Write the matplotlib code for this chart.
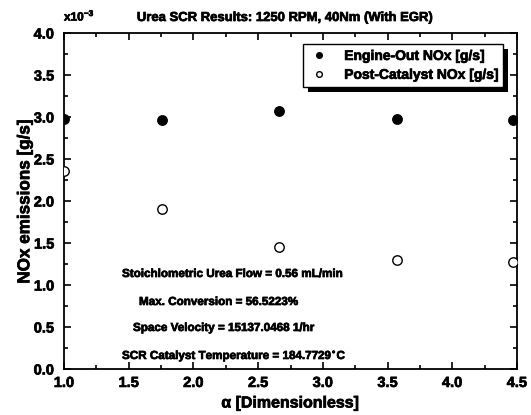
import matplotlib
matplotlib.use("Agg")
import matplotlib.pyplot as plt
import matplotlib.patheffects as pe
from matplotlib.ticker import MultipleLocator, FormatStrFormatter
from matplotlib.patches import Rectangle
from matplotlib.transforms import IdentityTransform

plt.rcParams['font.family'] = ['Liberation Sans', 'DejaVu Sans']

alpha_vals = [1.0, 1.76, 2.66, 3.57, 4.47]
engine_out = [2.98, 2.96, 3.07, 2.98, 2.96]   # x10^-3 g/s
post_cat = [2.355, 1.90, 1.45, 1.30, 1.27]     # x10^-3 g/s

title = "Urea SCR Results: 1250 RPM, 40Nm (With EGR)"
notes = ["Stoichlometric Urea Flow = 0.56 mL/min",
         "Max. Conversion = 56.5223%",
         "Space Velocity = 15137.0468 1/hr",
         "SCR Catalyst Temperature = 184.7729$^{\\circ}$C"]

heavy = [pe.withStroke(linewidth=0.5, foreground='black')]

fig = plt.figure(figsize=(5.31, 4.15), dpi=100)
ax = fig.add_axes([64/531, 1-369/415, 453/531, 336/415])

ax.plot(alpha_vals, engine_out, 'o', color='black', markersize=6.8,
        label='Engine-Out NOx [g/s]', zorder=3)
ax.plot(alpha_vals, post_cat, 'o', markerfacecolor='white', markeredgecolor='black',
        markeredgewidth=1.0, markersize=6.8, label='Post-Catalyst NOx [g/s]', zorder=3)

ax.set_xlim(1.0, 4.5)
ax.set_ylim(0.0, 4.0)
ax.xaxis.set_major_locator(MultipleLocator(0.5))
ax.xaxis.set_minor_locator(MultipleLocator(0.25))
ax.yaxis.set_major_locator(MultipleLocator(0.5))
ax.yaxis.set_minor_locator(MultipleLocator(0.25))
ax.xaxis.set_major_formatter(FormatStrFormatter('%.1f'))
ax.yaxis.set_major_formatter(FormatStrFormatter('%.1f'))
ax.tick_params(which='both', direction='in', top=True, right=True, width=1.2)
ax.tick_params(which='major', length=5, labelsize=10.5)
ax.tick_params(axis='y', which='major', pad=7)
ax.tick_params(axis='x', which='major', pad=5)
ax.tick_params(which='minor', length=3)
for lab in ax.get_xticklabels() + ax.get_yticklabels():
    lab.set_fontweight('bold')
    lab.set_path_effects(heavy)
for sp in ax.spines.values():
    sp.set_linewidth(1.3)

ax.set_ylabel('NOx emissions [g/s]', fontsize=12.3, fontweight='bold', labelpad=1,
              path_effects=heavy)
ax.set_xlabel('α [Dimensionless]', fontsize=11.5, fontweight='bold', labelpad=4,
              path_effects=heavy)

fig.text(64/531, 1-16/415, r'x10$^{\mathregular{-3}}$', fontsize=8.5, fontweight='bold',
         ha='left', va='center', path_effects=heavy)
fig.text(284/531, 1-18/415, title, fontsize=9.4, fontweight='bold', ha='center',
         va='center', path_effects=heavy)

note_x = [122, 139, 133, 122]
note_y = [274, 302, 328, 356]
for t, xx, yy in zip(notes, note_x, note_y):
    fig.text(xx/531, 1-yy/415, t, fontsize=8.4, fontweight='bold', ha='left',
             va='center', path_effects=heavy)

leg = ax.legend(loc='upper right', bbox_to_anchor=(0.969, 0.967), frameon=True,
                fancybox=False, edgecolor='black', framealpha=1,
                prop={'weight': 'bold', 'size': 10}, handletextpad=1.0,
                borderpad=0.35, labelspacing=0.35, handlelength=1.6,
                markerscale=0.6, borderaxespad=0)
leg.get_frame().set_linewidth(1.0)
for t in leg.get_texts():
    t.set_path_effects(heavy)

fig.canvas.draw()
bb = leg.get_window_extent()
shadow = Rectangle((bb.x0 + 5, bb.y0 - 5), bb.width, bb.height, transform=IdentityTransform(),
                   facecolor='black', edgecolor='none', zorder=leg.get_zorder() - 0.1,
                   clip_on=False)
ax.add_artist(shadow)

fig.savefig('out.png', dpi=100)
